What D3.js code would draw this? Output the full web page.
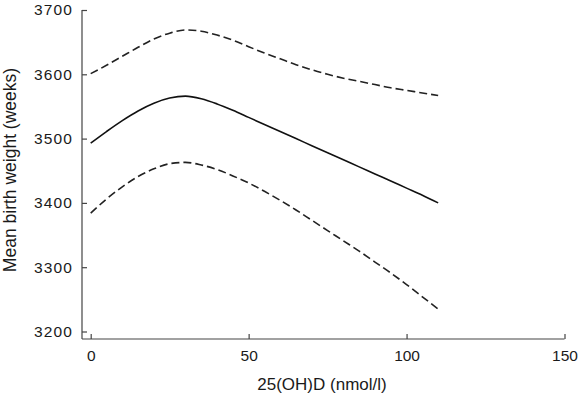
<!DOCTYPE html>
<html>
<head>
<meta charset="utf-8">
<script src="https://cdn.jsdelivr.net/npm/d3@7"></script>
<style>
  html, body { margin: 0; padding: 0; background: #fff; }
  svg { display: block; }
  text { font-family: "Liberation Sans", Arial, Helvetica, sans-serif; fill: #1a1a1a; }
</style>
</head>
<body>
<svg id="chart" width="579" height="393"></svg>
<script>
// ---- data ----
const vitD = [0, 5, 10, 15, 20, 25, 30, 35, 40, 45, 50, 55, 60, 65, 70, 75, 80, 85, 90, 95, 100, 105, 110];
const meanWeight = [3493, 3511, 3528, 3543, 3555, 3563, 3566, 3562, 3554, 3544, 3533, 3522, 3511, 3500, 3489, 3478, 3467, 3456, 3445, 3434, 3423, 3412, 3400];
const upperCI = [3601, 3614, 3628, 3642, 3655, 3664, 3669, 3667, 3661, 3653, 3643, 3633, 3624, 3615, 3607, 3600, 3594, 3589, 3584, 3579, 3575, 3571, 3567];
const lowerCI = [3384, 3406, 3425, 3441, 3453, 3461, 3463, 3459, 3452, 3442, 3431, 3418, 3404, 3389, 3373, 3357, 3341, 3325, 3308, 3291, 3273, 3254, 3235];
const xTicks = [0, 50, 100, 150];
const yTicks = [3200, 3300, 3400, 3500, 3600, 3700];
const xTitle = "25(OH)D (nmol/l)";
const yTitle = "Mean birth weight (weeks)";

const svg = d3.select("#chart");
const x = d3.scaleLinear().domain([0, 150]).range([90.7, 564.5]);
const y = d3.scaleLinear().domain([3200, 3700]).range([331.5, 10]);
const axisColor = "#444";
const axisBottomY = 339;
const axisLeftX = 82;

// x axis
const gx = svg.append("g").attr("transform", `translate(0,${axisBottomY})`);
gx.call(d3.axisBottom(x).tickValues(xTicks).tickSize(-5).tickPadding(11).tickFormat(d3.format("d")));
gx.select(".domain").remove();
gx.append("line").attr("x1", axisLeftX).attr("x2", x(150)).attr("y1", 0).attr("y2", 0)
  .attr("stroke", axisColor).attr("stroke-width", 1.2);
gx.selectAll(".tick line").attr("stroke", axisColor).attr("stroke-width", 1.2);
gx.selectAll(".tick text").attr("font-size", 15.5).attr("fill", "#1a1a1a")
  .attr("font-family", "Liberation Sans, Arial, sans-serif");

// y axis
const gy = svg.append("g").attr("transform", `translate(${axisLeftX},0)`);
gy.call(d3.axisLeft(y).tickValues(yTicks).tickSize(-5).tickPadding(9).tickFormat(d3.format("d")));
gy.select(".domain").remove();
gy.append("line").attr("x1", 0).attr("x2", 0).attr("y1", y(3700)).attr("y2", axisBottomY)
  .attr("stroke", axisColor).attr("stroke-width", 1.2);
gy.selectAll(".tick line").attr("stroke", axisColor).attr("stroke-width", 1.2);
gy.selectAll(".tick text").attr("font-size", 15.5).attr("letter-spacing", "1.1px").attr("fill", "#1a1a1a")
  .attr("font-family", "Liberation Sans, Arial, sans-serif");

// titles
svg.append("text").attr("x", 322).attr("y", 390).attr("text-anchor", "middle")
  .attr("font-size", 17).text(xTitle);
svg.append("text").attr("transform", "translate(16,170) rotate(-90)").attr("text-anchor", "middle")
  .attr("font-size", 17.5).text(yTitle);

// lines
const line = d3.line().x((d, i) => x(vitD[i])).y(d => y(d)).curve(d3.curveMonotoneX);
svg.append("path").attr("d", line(upperCI)).attr("fill", "none").attr("stroke", "#222")
  .attr("stroke-width", 1.6).attr("stroke-dasharray", "8,4");
svg.append("path").attr("d", line(lowerCI)).attr("fill", "none").attr("stroke", "#222")
  .attr("stroke-width", 1.6).attr("stroke-dasharray", "8,4");
svg.append("path").attr("d", line(meanWeight)).attr("fill", "none").attr("stroke", "#111")
  .attr("stroke-width", 1.6);
</script>
</body>
</html>
